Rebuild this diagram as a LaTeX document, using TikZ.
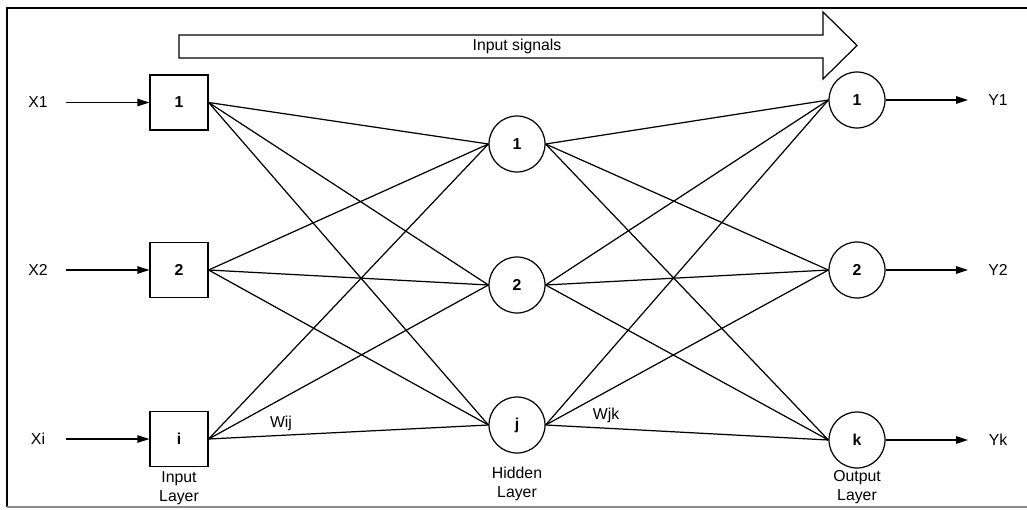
\documentclass[tikz,border=0pt]{standalone}
\usepackage{fontspec}
\setmainfont{Liberation Sans}
\usetikzlibrary{arrows.meta}

\begin{document}
\begin{tikzpicture}[x=0.02cm, y=-0.02cm, >={Triangle[length=0.24cm,width=0.15cm]}, line width=0.7pt,
  font=\fontsize{9}{10.5}\selectfont,
  unit/.style={draw, minimum width=1.16cm, minimum height=1.1cm, inner sep=0pt, font=\fontsize{9}{10.5}\selectfont\bfseries},
  neuron/.style={draw, circle, minimum size=1.12cm, inner sep=0pt, font=\fontsize{9}{10.5}\selectfont\bfseries},
  layertxt/.style={align=center, inner sep=0pt}]
  \useasboundingbox (0,0) rectangle (1027,510);
  % frame, open on the right
  \draw (1030,8) -- (7,8) -- (7,507);
  \draw[black!45] (7,507) -- (1030,507);
  % direction of the signals
  \draw (179,35) -- (823,35) -- (823,12) -- (857,45.5) -- (823,79) -- (823,58) -- (179,58) -- cycle;
  \node (sig) at (517,46.5) {Input signals};
  % input layer
  \foreach \n/\t/\y in {1/1/102.5, 2/2/270, 3/i/439} {
    \node[unit] (in\n) at (179,\y) {\t};
  }
  \foreach \n/\t/\y in {1/X1/102.5, 2/X2/270, 3/Xi/439} {
    \node (x\n) at (38,\y) {\t};
    \coordinate (xs\n) at (66,\y);
    \draw[->] (xs\n) -- (in\n);
  }
  % hidden layer
  \foreach \n/\t/\y in {1/1/144, 2/2/285, 3/j/425} {
    \node[neuron] (hid\n) at (517,\y) {\t};
  }
  % output layer
  \foreach \n/\t/\y in {1/1/100, 2/2/270, 3/k/440} {
    \node[neuron] (out\n) at (857,\y) {\t};
  }
  \foreach \n/\t in {1/Y1, 2/Y2, 3/Yk} {
    \coordinate (ye\n) at (968,0 |- out\n);
    \draw[->] (out\n) -- (ye\n);
    \node (y\n) at (998,0 |- out\n) {\t};
  }
  % weights
  \foreach \a in {1,2,3} {
    \foreach \b in {1,2,3} {
      \draw (in\a.east) -- (hid\b.west);
      \draw (hid\a.east) -- (out\b.west);
    }
  }
  \node (wij) at (281,423) {Wij};
  \node (wjk) at (606,415) {Wjk};
  % captions
  \node[layertxt] (inlay) at (179,488) {Input\\Layer};
  \node[layertxt] (hidlay) at (517,484) {Hidden\\Layer};
  \node[layertxt] (outlay) at (857,487) {Output\\Layer};
\end{tikzpicture}
\end{document}
